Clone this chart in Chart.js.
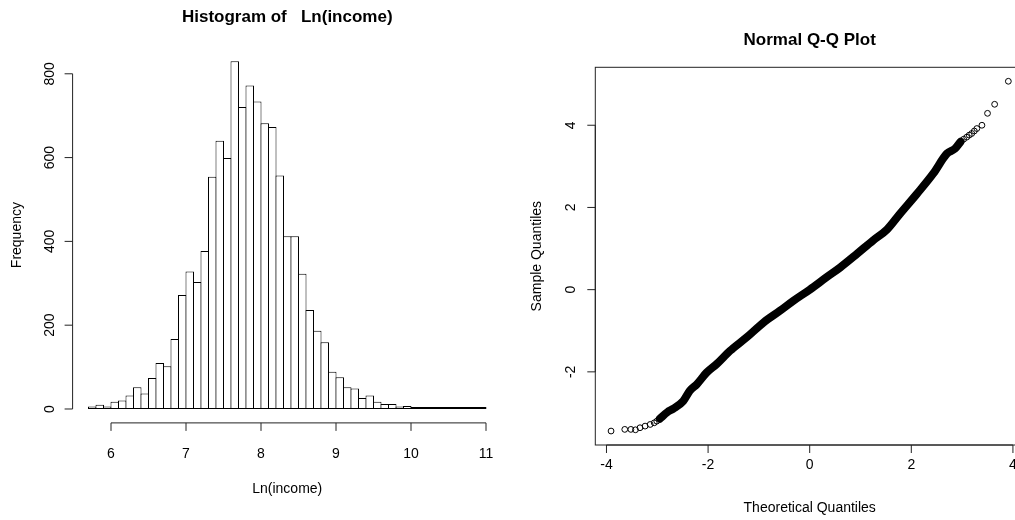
<!DOCTYPE html>
<html>
<head>
<meta charset="utf-8">
<script src="https://cdn.jsdelivr.net/npm/chart.js@4"></script>
<style>
    body { margin: 0; background: #fff; overflow: hidden; width: 1015px; height: 520px; }
    canvas { position: absolute; left: 0; top: 0; }
</style>
</head>
<body>
<canvas id="hist" width="1015" height="520"></canvas>
<canvas id="qq" width="1040" height="520"></canvas>
<script>
// histogram: lower edge of each bin (width 0.1) and its frequency
var bins = [5.7, 5.8, 5.9, 6.0, 6.1, 6.2, 6.3, 6.4, 6.5, 6.6, 6.7, 6.8, 6.9,
    7.0, 7.1, 7.2, 7.3, 7.4, 7.5, 7.6, 7.7, 7.8, 7.9,
    8.0, 8.1, 8.2, 8.3, 8.4, 8.5, 8.6, 8.7, 8.8, 8.9,
    9.0, 9.1, 9.2, 9.3, 9.4, 9.5, 9.6, 9.7, 9.8, 9.9,
    10.0, 10.1, 10.2, 10.3, 10.4, 10.5, 10.6, 10.7, 10.8, 10.9];
var counts = [6, 10, 6, 17, 20, 32, 52, 37, 74, 110, 102, 167, 272,
    328, 303, 377, 554, 640, 599, 830, 721, 772, 734,
    682, 673, 557, 412, 412, 323, 236, 187, 159, 89,
    76, 52, 49, 26, 32, 17, 12, 12, 6, 7,
    5, 3, 2, 1, 1, 1, 1, 1, 1, 1];
var binWidth = 0.1;
var histXTicks = [6, 7, 8, 9, 10, 11];
var histYTicks = [0, 200, 400, 600, 800];

// normal Q-Q plot: dense middle part (drawn as a thick band) and the sparse tails
var qqBandX = [-2.95, -2.80, -2.69, -2.49, -2.36, -2.22, -2.03, -1.83, -1.57, -1.24, -0.91, -0.58, -0.32,
    0, 0.33, 0.60, 0.93, 1.25, 1.52, 1.78, 2.11, 2.43, 2.70, 2.86, 2.97];
var qqBandY = [-3.14, -2.98, -2.90, -2.71, -2.46, -2.30, -2.02, -1.81, -1.49, -1.16, -0.80, -0.51, -0.27,
    0, 0.30, 0.54, 0.87, 1.20, 1.46, 1.85, 2.33, 2.82, 3.31, 3.43, 3.60];
var qqTailX = [-3.91, -3.64, -3.52, -3.43, -3.34, -3.24, -3.14, -3.06, -3.01,
    3.03, 3.09, 3.14, 3.19, 3.24, 3.29, 3.39, 3.50, 3.64, 3.91];
var qqTailY = [-3.44, -3.40, -3.40, -3.41, -3.36, -3.32, -3.28, -3.24, -3.20,
    3.66, 3.71, 3.76, 3.80, 3.86, 3.92, 4.00, 4.29, 4.51, 5.07];
var qqXTicks = [-4, -2, 0, 2, 4];
var qqYTicks = [-2, 0, 2, 4];

var FONT = '"Liberation Sans", Arial, sans-serif';

// R style axes: lines only over the tick range, rotated y labels
var rAxes = {
    id: 'rAxes',
    afterDraw: function (chart, args, o) {
        var ctx = chart.ctx;
        var a = chart.chartArea;
        var xs = chart.scales.x;
        var ys = chart.scales.y;
        ctx.save();
        ctx.strokeStyle = '#222';
        ctx.fillStyle = '#000';
        ctx.lineWidth = 1;

        if (o.box) {
            ctx.strokeRect(a.left, a.top, a.right - a.left, a.bottom - a.top);
        }

        var xp = [];
        for (var i = 0; i < o.xTicks.length; i++) xp.push(xs.getPixelForValue(o.xTicks[i]));
        var yp = [];
        for (var j = 0; j < o.yTicks.length; j++) yp.push(ys.getPixelForValue(o.yTicks[j]));

        ctx.beginPath();
        ctx.moveTo(xp[0], a.bottom);
        ctx.lineTo(xp[xp.length - 1], a.bottom);
        for (var i = 0; i < xp.length; i++) {
            ctx.moveTo(xp[i], a.bottom);
            ctx.lineTo(xp[i], a.bottom + 8);
        }
        ctx.moveTo(a.left, yp[0]);
        ctx.lineTo(a.left, yp[yp.length - 1]);
        for (var j = 0; j < yp.length; j++) {
            ctx.moveTo(a.left, yp[j]);
            ctx.lineTo(a.left - 8, yp[j]);
        }
        ctx.stroke();

        ctx.textAlign = 'center';
        ctx.textBaseline = 'middle';
        ctx.font = '14px ' + FONT;
        for (var i = 0; i < xp.length; i++) {
            ctx.fillText(String(o.xTicks[i]), xp[i], a.bottom + o.xLabOff);
        }
        ctx.fillText(o.xTitle, (a.left + a.right) / 2, a.bottom + o.xTitleOff);

        for (var j = 0; j < yp.length; j++) {
            ctx.save();
            ctx.translate(a.left - o.yLabOff, yp[j]);
            ctx.rotate(-Math.PI / 2);
            ctx.fillText(String(o.yTicks[j]), 0, 0);
            ctx.restore();
        }
        ctx.save();
        ctx.translate(a.left - o.yTitleOff, (a.top + a.bottom) / 2);
        ctx.rotate(-Math.PI / 2);
        ctx.fillText(o.yTitle, 0, 0);
        ctx.restore();

        ctx.font = 'bold 17px ' + FONT;
        ctx.fillText(o.main, (a.left + a.right) / 2, o.mainY);
        ctx.restore();
    }
};

function start() {
    drawHist();
    drawQQ();
}

function drawHist() {
    var pts = [];
    for (var i = 0; i < bins.length; i++) {
        pts.push({ x: bins[i] + binWidth / 2, y: counts[i] });
    }
    new Chart(document.getElementById('hist'), {
        type: 'bar',
        data: {
            datasets: [{
                data: pts,
                backgroundColor: '#fff',
                borderColor: '#000',
                borderWidth: 1,
                borderSkipped: false,
                minBarLength: 2,
                barPercentage: 8.5 / 7.5,
                categoryPercentage: 1
            }]
        },
        options: {
            responsive: false,
            animation: false,
            layout: { padding: { left: 72.6, right: 513.1, top: 47.3, bottom: 97.1 } },
            scales: {
                x: { type: 'linear', min: 5.488, max: 11.212, offset: false, display: false },
                y: { type: 'linear', min: -33.2, max: 863.2, display: false }
            },
            plugins: {
                legend: { display: false },
                tooltip: { enabled: false },
                rAxes: {
                    xTicks: histXTicks, yTicks: histYTicks,
                    xTitle: 'Ln(income)', yTitle: 'Frequency',
                    main: 'Histogram of   Ln(income)', mainY: 17,
                    xLabOff: 31, xTitleOff: 66, yLabOff: 22, yTitleOff: 55,
                    box: false
                }
            }
        },
        plugins: [rAxes]
    });
}

function drawQQ() {
    var band = [];
    for (var i = 0; i < qqBandX.length; i++) band.push({ x: qqBandX[i], y: qqBandY[i] });
    var tail = [];
    for (var i = 0; i < qqTailX.length; i++) tail.push({ x: qqTailX[i], y: qqTailY[i] });

    new Chart(document.getElementById('qq'), {
        type: 'scatter',
        data: {
            datasets: [{
                data: band,
                showLine: true,
                borderColor: '#000',
                borderWidth: 8,
                borderCapStyle: 'round',
                borderJoinStyle: 'round',
                cubicInterpolationMode: 'monotone',
                pointRadius: 0
            }, {
                data: tail,
                showLine: false,
                pointStyle: 'circle',
                pointRadius: 2.9,
                borderColor: '#000',
                borderWidth: 1,
                backgroundColor: 'rgba(0,0,0,0)'
            }]
        },
        options: {
            responsive: false,
            animation: false,
            layout: { padding: { left: 595.3, right: 15.9, top: 67.3, bottom: 75 } },
            scales: {
                x: { type: 'linear', min: -4.22, max: 4.22, display: false },
                y: { type: 'linear', min: -3.78, max: 5.41, display: false }
            },
            plugins: {
                legend: { display: false },
                tooltip: { enabled: false },
                rAxes: {
                    xTicks: qqXTicks, yTicks: qqYTicks,
                    xTitle: 'Theoretical Quantiles', yTitle: 'Sample Quantiles',
                    main: 'Normal Q-Q Plot', mainY: 40,
                    xLabOff: 20, xTitleOff: 63, yLabOff: 24, yTitleOff: 58,
                    box: true
                }
            }
        },
        plugins: [rAxes]
    });
}

start();
</script>
</body>
</html>
